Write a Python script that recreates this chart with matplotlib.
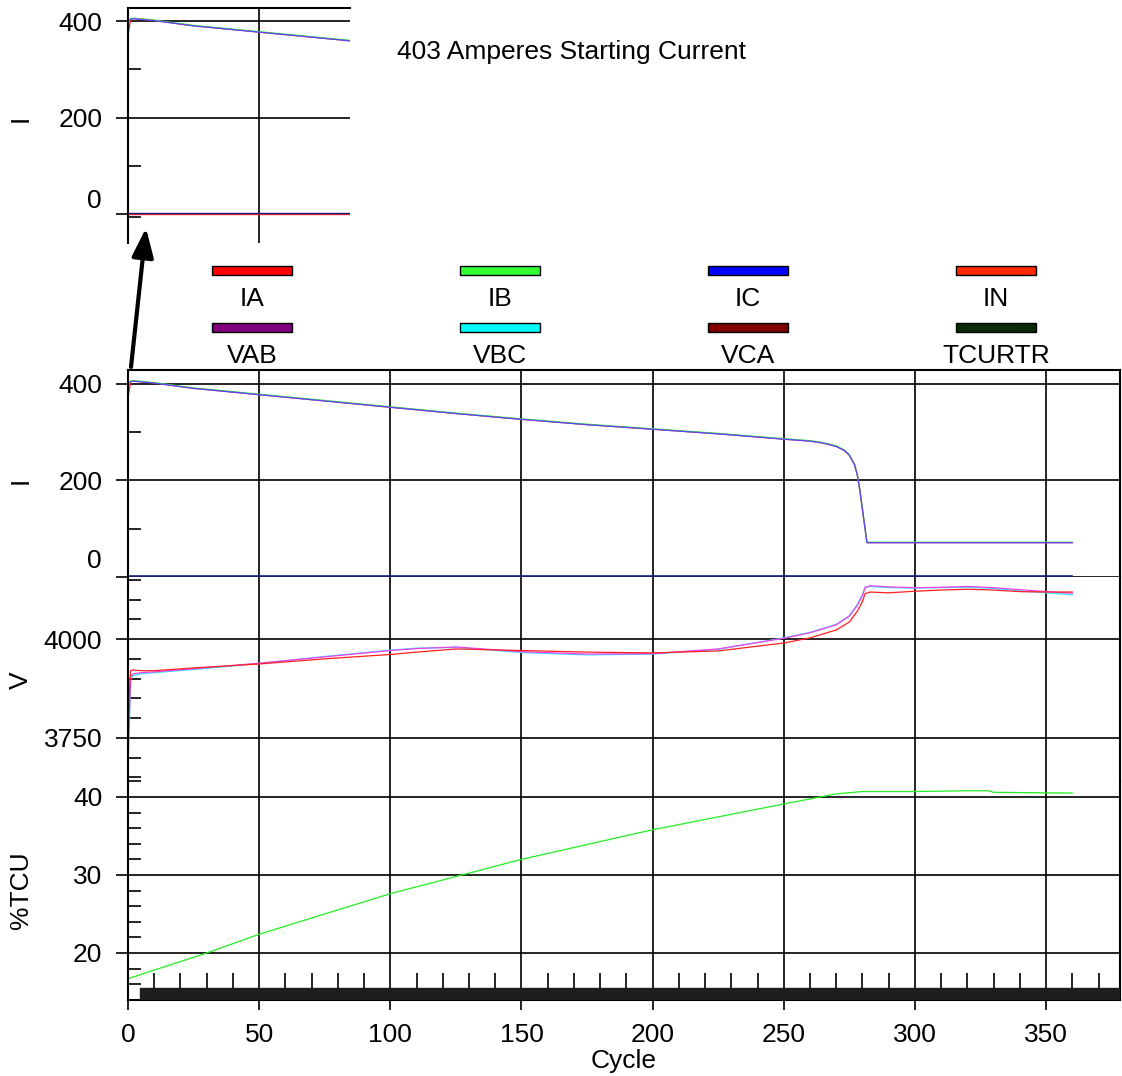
import matplotlib
matplotlib.use("Agg")
import matplotlib.pyplot as plt
from matplotlib.patches import Rectangle
from matplotlib.transforms import blended_transform_factory

plt.rcParams['font.family'] = ['Liberation Sans', 'DejaVu Sans']

# currents (A) vs cycle
cyc_i = [0, 1, 2, 10, 25, 50, 75, 100, 125, 150, 175, 200, 225, 250, 260, 265, 270,
         273, 275, 277, 278, 279, 280, 281, 281.7, 300, 330, 360]
ia = [370, 404, 405, 401, 390, 377, 364, 351, 338, 326, 315, 305.5, 296, 285, 281, 277, 270,
      262, 252, 232, 212, 180, 140, 100, 71, 71, 71, 71]
ib = [395, 405, 406, 402, 391, 378, 365, 352, 339, 327, 316, 306.5, 297, 286, 282, 278, 271,
      263, 253, 233, 213, 181, 141, 101, 72, 72, 72, 72]
ic = [400, 404, 405, 401, 390, 377, 364, 351, 338, 326, 315, 305.5, 296, 285, 281, 277, 270,
      262, 252, 232, 212, 180, 140, 100, 71, 71, 71, 71]
cyc_n = [0, 360]
i_n = [0, 0]

# voltages (V) vs cycle
cyc_v = [0, 0.5, 1, 2, 5, 10, 25, 50, 75, 100, 110, 125, 150, 175, 200, 225, 250, 260, 270,
         275, 278, 280, 281, 283, 290, 300, 310, 320, 330, 340, 350, 360]
vab = [3700, 3800, 3905, 3912, 3915, 3917, 3925, 3939, 3955, 3971, 3976, 3980, 3968, 3962,
       3963, 3975, 4002, 4016, 4036, 4058, 4085, 4110, 4130, 4135, 4132, 4130, 4131, 4133,
       4130, 4125, 4120, 4116]
vbc = [3662, 3780, 3900, 3908, 3912, 3915, 3923, 3938, 3956, 3972, 3977, 3979, 3966, 3960,
       3962, 3974, 4003, 4017, 4037, 4059, 4087, 4112, 4131, 4133, 4130, 4129, 4130, 4131,
       4128, 4122, 4117, 4112]
vca = [3730, 3870, 3920, 3922, 3920, 3920, 3927, 3937, 3950, 3961, 3967, 3975, 3971, 3967,
       3965, 3970, 3990, 4003, 4023, 4043, 4070, 4095, 4115, 4119, 4117, 4121, 4124, 4126,
       4124, 4120, 4119, 4119]

# thermal capacity used (%)
cyc_t = [0, 30, 50, 100, 150, 200, 250, 270, 280, 300, 320, 328, 330, 360]
tcu = [16.7, 20.0, 22.4, 27.6, 32.0, 35.8, 39.1, 40.4, 40.7, 40.7, 40.8, 40.8, 40.6, 40.5]

legend_names = ['IA', 'IB', 'IC', 'IN', 'VAB', 'VBC', 'VCA', 'TCURTR']
legend_colors = ['#ff0000', '#33ff33', '#0000ff', '#ff2a00',
                 '#800080', '#00ffff', '#800000', '#0a2a0a']

W, H = 1122, 1076
FS = 19
fig = plt.figure(figsize=(W / 100, H / 100), dpi=100)


def fx(px):
    return px / W


def fy(py):
    return 1 - py / H


def style_axis(ax, majors, minors, labels):
    ax.set_yticks(majors)
    ax.set_yticklabels(labels)
    ax.set_yticks(minors, minor=True)
    ax.tick_params(axis='y', which='major', direction='out', length=8.6, width=1.2,
                   labelsize=FS, pad=10)
    ax.tick_params(axis='y', which='minor', direction='in', length=9.4, width=1.2)
    for y in majors:
        ax.axhline(y, color='black', lw=1.2, zorder=1)
    for s in ax.spines.values():
        s.set_linewidth(1.5)


left, right = 128, 1120
xmax = (right - left) / 2.623
xw = fx(right - left)

# current panel
ax_i = fig.add_axes([fx(left), fy(577), xw, fy(370) - fy(577)])
ax_i.plot(cyc_i, ia, color='#ff2020', lw=0.9)
ax_i.plot(cyc_i, ib, color='#30ff30', lw=0.9)
ax_i.plot(cyc_i, ic, color='#6040ff', lw=0.9)
ax_i.plot(cyc_n, i_n, color='#ff2020', lw=1.0)
ax_i.plot(cyc_n, [v + 1.5 for v in i_n], color='#102080', lw=1.2)
ax_i.set_ylim(0, 428)
style_axis(ax_i, [0, 200, 400], [100, 300], ['', '200', '400'])
ax_i.spines['bottom'].set_visible(False)

# voltage panel
ax_v = fig.add_axes([fx(left), fy(781), xw, fy(577) - fy(781)])
ax_v.plot(cyc_v, vbc, color='#30e8ff', lw=0.9)
ax_v.plot(cyc_v, vab, color='#ee40ee', lw=0.9)
ax_v.plot(cyc_v, vca, color='#ff2020', lw=0.9)
ax_v.set_ylim(3641, 4157)
style_axis(ax_v, [3750, 4000], [3650, 3700, 3800, 3850, 3900, 3950, 4050, 4100, 4150],
           ['3750', '4000'])
ax_v.spines['bottom'].set_visible(False)
ax_v.spines['top'].set_visible(False)

# thermal panel
ax_t = fig.add_axes([fx(left), fy(1000), xw, fy(781) - fy(1000)])
ax_t.plot(cyc_t, tcu, color='#22ee22', lw=0.9)
ax_t.set_ylim(13.97, 42.05)
style_axis(ax_t, [20, 30, 40], [16, 18, 22, 24, 26, 28, 32, 34, 36, 38, 42],
           ['20', '30', '40'])
ax_t.spines['top'].set_visible(False)
bar_tr = blended_transform_factory(ax_t.transData, ax_t.transAxes)
ax_t.add_patch(Rectangle((4.6, 0), 400, 12 / 219, transform=bar_tr,
                         color='#1e1e1e', zorder=3, clip_on=True))

for ax in (ax_i, ax_v, ax_t):
    ax.set_xlim(0, xmax)
    for x in range(0, 351, 50):
        ax.axvline(x, color='black', lw=1.2, zorder=1)

for ax in (ax_i, ax_v):
    ax.tick_params(axis='x', which='both', bottom=False, labelbottom=False)

ax_t.set_xticks(range(0, 351, 50))
ax_t.set_xticks([x for x in range(10, 380, 10) if x % 50], minor=True)
ax_t.tick_params(axis='x', which='major', direction='out', length=7.2, width=1.2,
                 labelsize=FS, pad=9)
ax_t.tick_params(axis='x', which='minor', direction='in', length=19.4, width=1.2)
ax_t.set_xlabel('Cycle', fontsize=FS, labelpad=2)

fig.text(fx(102), fy(561), '0', fontsize=FS, ha='right', va='center')
fig.text(fx(21), fy(480), 'I', fontsize=FS, rotation=90, ha='center', va='center')
fig.text(fx(21), fy(680), 'V', fontsize=FS, rotation=90, ha='center', va='center')
fig.text(fx(21), fy(890), '%TCU', fontsize=FS, rotation=90, ha='center', va='center')

# inset showing starting current
ax_z = fig.add_axes([fx(left), fy(243), fx(350 - left), fy(8) - fy(243)])
ax_z.plot(cyc_i, ia, color='#ff2020', lw=0.9)
ax_z.plot(cyc_i, ib, color='#30ff30', lw=0.9)
ax_z.plot(cyc_i, ic, color='#6040ff', lw=0.9)
ax_z.plot(cyc_n, i_n, color='#ff2020', lw=1.0)
ax_z.plot(cyc_n, [v + 1.5 for v in i_n], color='#102080', lw=1.0)
ax_z.set_xlim(0, (350 - left) / 2.623)
ax_z.set_ylim(-60, 427)
style_axis(ax_z, [0, 200, 400], [-7, 100, 300], ['', '200', '400'])
ax_z.axvline(50, color='black', lw=1.2, zorder=1)
ax_z.spines['right'].set_visible(False)
ax_z.spines['bottom'].set_visible(False)
ax_z.tick_params(axis='x', which='both', bottom=False, labelbottom=False)
fig.text(fx(102), fy(201), '0', fontsize=FS, ha='right', va='center')
fig.text(fx(21), fy(118), 'I', fontsize=FS, rotation=90, ha='center', va='center')
fig.text(fx(397), fy(52), '403 Amperes Starting Current', fontsize=FS, ha='left',
         va='center')

plt.annotate('', xy=(146, H - 228), xytext=(131, H - 367), xycoords='figure pixels',
             textcoords='figure pixels',
             arrowprops=dict(arrowstyle='-|>,head_length=0.8,head_width=0.3', lw=3,
                             color='black', mutation_scale=22, shrinkA=0, shrinkB=0))

# legend
for k, (name, col) in enumerate(zip(legend_names, legend_colors)):
    cx = 252 + 248 * (k % 4)
    top = 266 if k < 4 else 323
    fig.add_artist(Rectangle((fx(cx - 40), fy(top + 9)), fx(80), fy(top) - fy(top + 9),
                             facecolor=col, edgecolor='black', lw=1,
                             transform=fig.transFigure))
    fig.text(fx(cx), fy(top + 33), name, fontsize=FS, ha='center', va='center')

fig.savefig('out.png', dpi=100)
